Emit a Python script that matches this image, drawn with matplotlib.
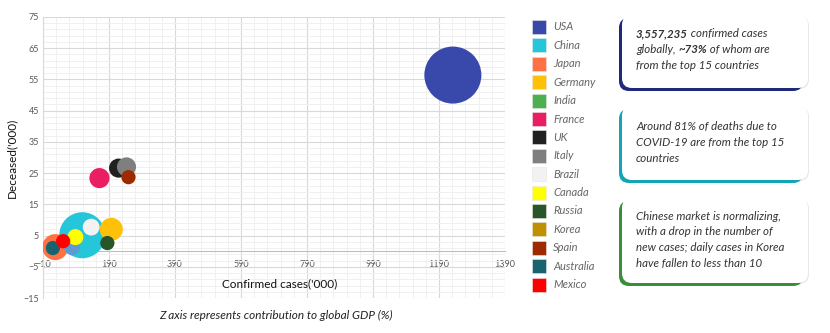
import matplotlib
matplotlib.use('Agg')
import matplotlib.pyplot as plt
from matplotlib.patches import FancyBboxPatch, Rectangle
from matplotlib.ticker import FixedLocator
import numpy as np

# data (confirmed / deceased in '000, z = share of global GDP %)
countries = ['USA', 'China', 'Japan', 'Germany', 'India', 'France', 'UK', 'Italy',
             'Brazil', 'Canada', 'Russia', 'Korea', 'Spain', 'Australia', 'Mexico']
confirmed = [1232, 109, 27, 197, 78, 161, 219, 243, 136, 88, 185, 18, 249, 20, 51]
deceased = [56.4, 5.1, 1.3, 7.0, 1.3, 23.4, 26.6, 27.0, 7.7, 4.5, 2.6, 0.8, 23.7, 1.0, 3.2]
gdp_share = [24.1, 15.7, 5.0, 3.9, 1.9, 3.0, 2.7, 2.7, 2.1, 1.9, 1.5, 1.1, 1.5, 1.5, 1.5]
colors = ['#3949AB', '#26C6DA', '#FF7043', '#FFC107', '#4CAF50', '#E91E63', '#212121',
          '#7F7F7F', '#F2F2F2', '#FFFF00', '#28552A', '#BF9000', '#9E2A00', '#17636E', '#FF0000']
# the India bubble is drawn in a blue tone in the original chart
bubble_colors = list(colors)
bubble_colors[4] = '#5B9BD5'

notes = [
    ('#1F2A7A', [[('3,557,235', 'bold'), (' confirmed cases', 'normal')],
                 [('globally, ', 'normal'), ('~73%', 'bold'), (' of whom are', 'normal')],
                 [('from the top 15 countries', 'normal')]]),
    ('#12A5B5', [[('Around 81% of deaths due to', 'normal')],
                 [('COVID-19 are from the top 15', 'normal')],
                 [('countries', 'normal')]]),
    ('#388E3C', [[('Chinese market is normalizing,', 'normal')],
                 [('with a drop in the number of', 'normal')],
                 [('new cases; daily cases in Korea', 'normal')],
                 [('have fallen to less than 10', 'normal')]]),
]

plt.rcParams['font.family'] = ['Lato', 'DejaVu Sans']

W, H = 830, 333
fig = plt.figure(figsize=(W / 100, H / 100), dpi=100)
ax = fig.add_axes([43 / W, 1 - 298 / H, 462 / W, 281 / H])

sizes = [z * 70 for z in gdp_share]
for i in range(len(countries)):
    ax.scatter(confirmed[i], deceased[i], s=sizes[i], color=bubble_colors[i],
               edgecolors='none', zorder=3 + i * 0.01)

ax.set_xlim(-10, 1390)
ax.set_ylim(-15, 75)
ax.xaxis.set_major_locator(FixedLocator(np.arange(-10, 1391, 200)))
ax.yaxis.set_major_locator(FixedLocator(np.arange(-15, 76, 10)))
ax.xaxis.set_minor_locator(FixedLocator(np.arange(-10, 1391, 40)))
ax.yaxis.set_minor_locator(FixedLocator(np.arange(-15, 76, 2)))
ax.grid(which='major', color='#D9D9D9', linewidth=0.8, zorder=0)
ax.grid(which='minor', color='#F0F0F0', linewidth=0.7, zorder=0)
ax.set_axisbelow(True)

for s in ['top', 'right']:
    ax.spines[s].set_visible(False)
ax.spines['left'].set_color('#D9D9D9')
ax.spines['bottom'].set_position(('data', 0))
ax.spines['bottom'].set_color('#BFBFBF')
ax.tick_params(which='both', length=0, labelsize=6.5, colors='#595959')
ax.tick_params(axis='x', pad=6.5)
ax.tick_params(axis='y', pad=3)

ax.set_ylabel("Deceased('000)", fontsize=8.5, color='#111111', labelpad=4)
ax.text(706, -10.6, "Confirmed cases('000)", fontsize=8.5, color='#111111',
        ha='center', va='center')
fig.text(276 / W, 1 - 315 / H, 'Z axis represents contribution to global GDP (%)',
         fontsize=8.5, style='italic', color='#222222', ha='center', va='center')

# legend
for i, (name, c) in enumerate(zip(countries, colors)):
    yc = 27 + i * 18.4
    fig.add_artist(Rectangle((532 / W, 1 - (yc + 7) / H), 14 / W, 14 / H,
                             transform=fig.transFigure, facecolor=c,
                             edgecolor='#E6E6E6', linewidth=0.4))
    fig.text(553 / W, 1 - yc / H, name, fontsize=8, style='italic', color='#666666',
             va='center')

# note boxes
boxes = [(15, 88, 34), (106, 180, 127), (198, 283, 216)]
renderer = fig.canvas.get_renderer()
for (top, bottom, first), (col, lines) in zip(boxes, notes):
    x0, x1 = 622, 808
    shadow = FancyBboxPatch((x0 / W, 1 - (bottom + 1) / H), (x1 - x0 + 1) / W, (bottom - top) / H,
                            boxstyle='round,pad=0,rounding_size=0.012',
                            transform=fig.transFigure, facecolor='#E8E8E8',
                            edgecolor='none', mutation_aspect=W / H)
    fig.add_artist(shadow)
    edge = FancyBboxPatch(((x0 - 3) / W, 1 - (bottom + 3) / H), (x1 - x0 - 2) / W,
                          (bottom - top) / H, boxstyle='round,pad=0,rounding_size=0.012',
                          transform=fig.transFigure, facecolor=col, edgecolor='none',
                          mutation_aspect=W / H)
    fig.add_artist(edge)
    card = FancyBboxPatch((x0 / W, 1 - bottom / H), (x1 - x0) / W, (bottom - top) / H,
                          boxstyle='round,pad=0,rounding_size=0.012',
                          transform=fig.transFigure, facecolor='white', edgecolor='none',
                          mutation_aspect=W / H)
    fig.add_artist(card)
    for k, parts in enumerate(lines):
        x = 636 / W
        y = 1 - (first + k * 15.7) / H
        for s, weight in parts:
            t = fig.text(x, y, s, fontsize=8.3, style='italic', weight=weight,
                         color='#333333', va='center')
            x += t.get_window_extent(renderer).width / fig.bbox.width

fig.savefig('out.png', dpi=100)
